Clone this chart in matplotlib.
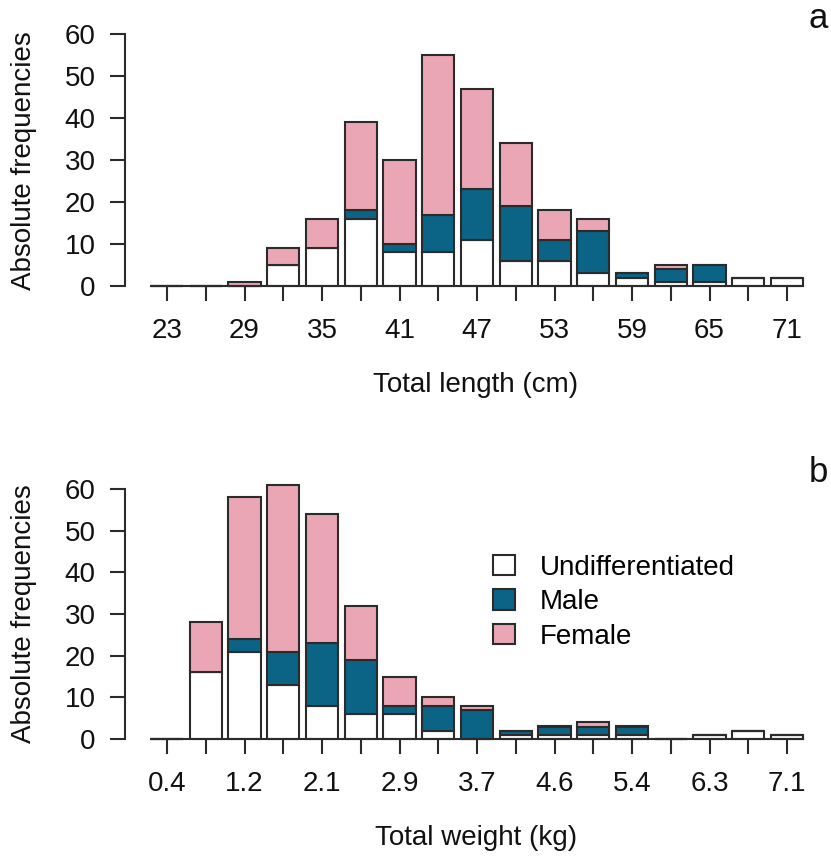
import matplotlib
matplotlib.use("Agg")
import matplotlib.pyplot as plt
from matplotlib.patches import Patch
import numpy as np

plt.rcParams['font.family'] = ['Liberation Sans', 'DejaVu Sans']

# length classes (cm) and counts per sex
length_labels = ['23', '', '29', '', '35', '', '41', '', '47', '', '53', '', '59', '', '65', '', '71']
len_undiff = [0, 0, 0, 5, 9, 16, 8, 8, 11, 6, 6, 3, 2, 1, 1, 2, 2]
len_male = [0, 0, 0, 0, 0, 2, 2, 9, 12, 13, 5, 10, 1, 3, 4, 0, 0]
len_female = [0, 0, 1, 4, 7, 21, 20, 38, 24, 15, 7, 3, 0, 1, 0, 0, 0]

# weight classes (kg) and counts per sex
weight_labels = ['0.4', '', '1.2', '', '2.1', '', '2.9', '', '3.7', '', '4.6', '', '5.4', '', '6.3', '', '7.1']
wt_undiff = [0, 16, 21, 13, 8, 6, 6, 2, 0, 1, 1, 1, 1, 0, 1, 2, 1]
wt_male = [0, 0, 3, 8, 15, 13, 2, 6, 7, 1, 2, 2, 2, 0, 0, 0, 0]
wt_female = [0, 12, 34, 40, 31, 13, 7, 2, 1, 0, 0, 1, 0, 0, 0, 0, 0]

col_undiff = 'white'
col_male = '#0b6485'
col_female = '#eba6b5'
edge = '#2b2b2b'
txt = '#111111'
lw = 1.5
fs = 20

W, H = 831, 859
fig = plt.figure(figsize=(W / 100, H / 100), dpi=100)

px_per_bar = 38.75
first_tick = 167
left_px, right_px = 125, 812


def panel(y0_px, y60_px, labels, und, male, fem, xlabel, tag, ylab_y):
    ax = fig.add_axes([left_px / W, 1 - y0_px / H, (right_px - left_px) / W, (y0_px - y60_px) / H])
    x = np.arange(len(und))
    und = np.array(und)
    male = np.array(male)
    fem = np.array(fem)
    bw = 1 / 1.2
    for vals, base, col in [(und, 0, col_undiff), (male, und, col_male), (fem, und + male, col_female)]:
        bars = ax.bar(x, vals, bottom=base, width=bw, color=col, edgecolor=edge, linewidth=lw)
        for b in bars:
            b.set_clip_on(False)
    ax.plot([x[0] - bw / 2, x[-1] + bw / 2], [0, 0], color=edge, lw=lw, clip_on=False)

    xmin = (left_px - first_tick) / px_per_bar
    xmax = (right_px - first_tick) / px_per_bar
    ax.set_xlim(xmin, xmax)
    ax.set_ylim(0, 60)
    for s in ['top', 'right', 'bottom']:
        ax.spines[s].set_visible(False)
    ax.spines['left'].set_bounds(0, 60)
    ax.spines['left'].set_color(edge)
    ax.spines['left'].set_linewidth(lw)
    ax.set_yticks([0, 10, 20, 30, 40, 50, 60])
    ax.set_xticks(x)
    ax.set_xticklabels(labels)
    ax.tick_params(axis='both', direction='out', length=11, width=lw, color=edge,
                   labelsize=fs, labelcolor=txt)
    ax.tick_params(axis='y', pad=10)
    ax.tick_params(axis='x', pad=12)
    fig.text(476 / W, 1 - (y0_px + 99) / H, xlabel, ha='center', va='center',
             fontsize=fs, color=txt)
    fig.text(24 / W, 1 - ylab_y / H, 'Absolute frequencies', rotation=90,
             ha='center', va='center', fontsize=fs, color=txt)
    fig.text(818 / W, 1 - (y60_px - 16) / H, tag, ha='center', va='center',
             fontsize=25, color=txt)
    return ax


panel(286, 34, length_labels, len_undiff, len_male, len_female,
      'Total length (cm)', 'a', 161)
axb = panel(739, 489, weight_labels, wt_undiff, wt_male, wt_female,
            'Total weight (kg)', 'b', 614)

handles = [Patch(facecolor=col_undiff, edgecolor=edge, linewidth=lw, label='Undifferentiated'),
           Patch(facecolor=col_male, edgecolor=edge, linewidth=lw, label='Male'),
           Patch(facecolor=col_female, edgecolor=edge, linewidth=lw, label='Female')]
fig.legend(handles=handles, loc='upper left', bbox_to_anchor=(493 / W, 1 - 555 / H),
           frameon=False, fontsize=fs, handlelength=0.8, handleheight=0.75,
           handletextpad=0.9, labelspacing=0.3, borderaxespad=0, borderpad=0)

fig.savefig('out.png', dpi=100)
